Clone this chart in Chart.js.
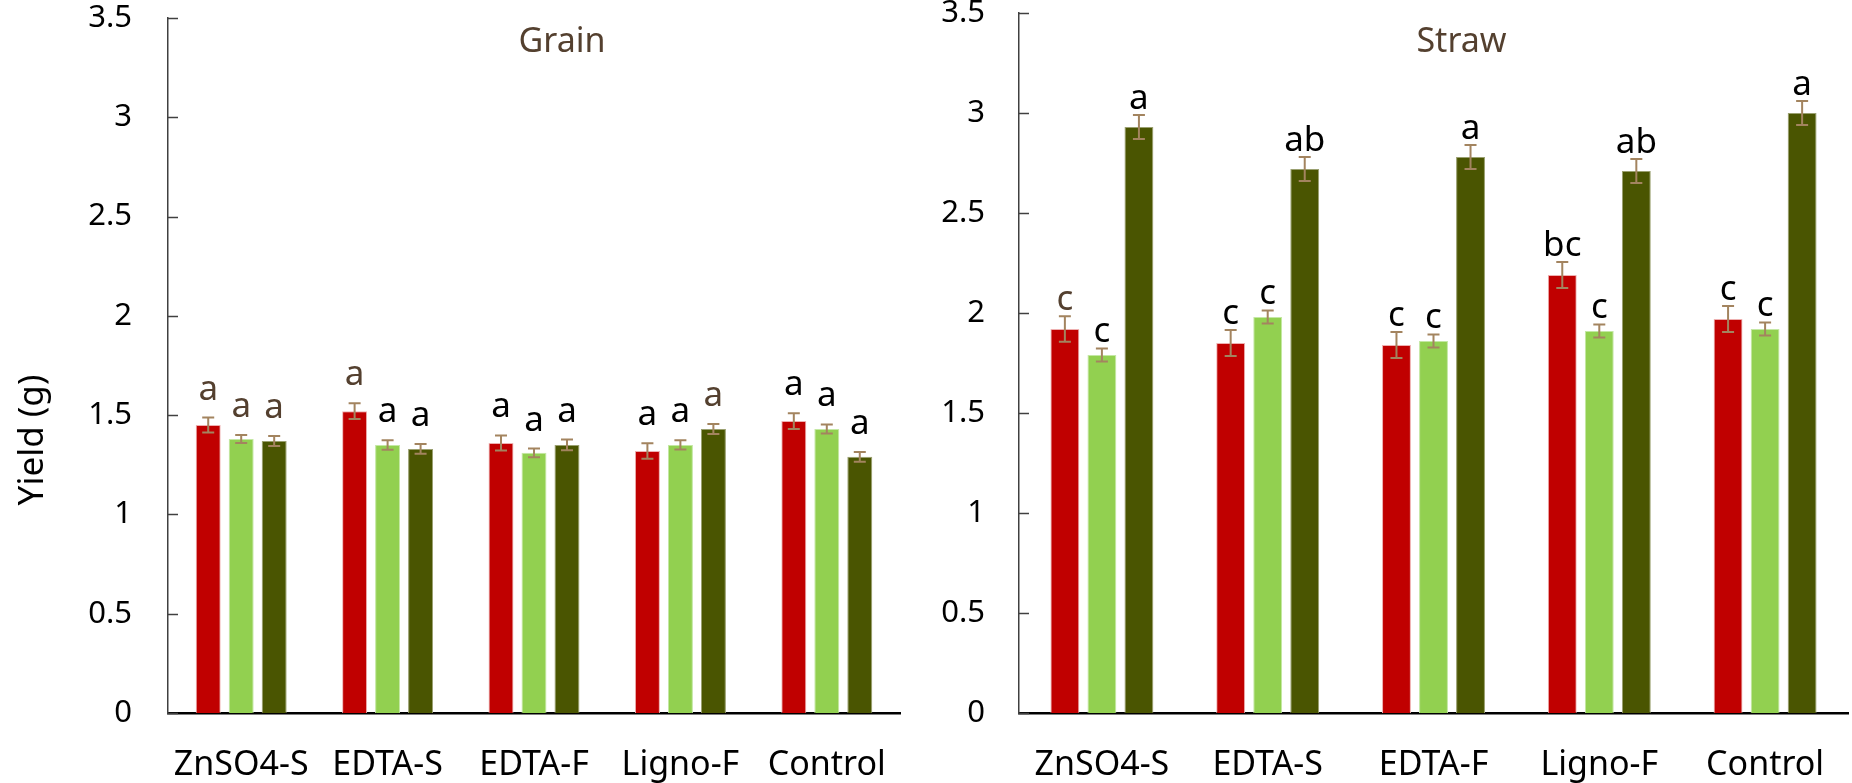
<!DOCTYPE html>
<html lang="en">
<head>
  <meta charset="UTF-8">
  <title>Yield - Grain and Straw</title>
  <script src="https://cdn.jsdelivr.net/npm/chart.js"></script>
  <style>
    body { margin: 0; background: #fff; overflow: hidden; }
    .panel { position: absolute; top: 0; height: 783px; }
    #grainBox { left: 0; width: 930px; }
    #strawBox { left: 930px; width: 922px; }
  </style>
</head>
<body>
  <div class="panel" id="grainBox"><canvas id="grainChart" width="930" height="783"></canvas></div>
  <div class="panel" id="strawBox"><canvas id="strawChart" width="922" height="783"></canvas></div>

  <script>
    // data
    const categories = ['ZnSO4-S', 'EDTA-S', 'EDTA-F', 'Ligno-F', 'Control'];
    const yTickLabels = ['0', '0.5', '1', '1.5', '2', '2.5', '3', '3.5'];

    const grainRed   = [1.45, 1.52, 1.36, 1.32, 1.47];
    const grainLight = [1.38, 1.35, 1.31, 1.35, 1.43];
    const grainDark  = [1.37, 1.33, 1.35, 1.43, 1.29];
    const grainRedErr   = [0.038, 0.040, 0.038, 0.039, 0.040];
    const grainLightErr = [0.020, 0.024, 0.022, 0.023, 0.023];
    const grainDarkErr  = [0.025, 0.025, 0.027, 0.025, 0.025];
    const grainLetters = [
      ['a', 'a', 'a', 'a', 'a'],
      ['a', 'a', 'a', 'a', 'a'],
      ['a', 'a', 'a', 'a', 'a']
    ];

    const strawRed   = [1.92, 1.85, 1.84, 2.19, 1.97];
    const strawLight = [1.79, 1.98, 1.86, 1.91, 1.92];
    const strawDark  = [2.93, 2.72, 2.78, 2.71, 3.00];
    const strawRedErr   = [0.064, 0.065, 0.065, 0.065, 0.065];
    const strawLightErr = [0.033, 0.033, 0.033, 0.033, 0.033];
    const strawDarkErr  = [0.060, 0.060, 0.060, 0.060, 0.060];
    const strawLetters = [
      ['c', 'c', 'c', 'bc', 'c'],
      ['c', 'c', 'c', 'c', 'c'],
      ['a', 'ab', 'a', 'ab', 'a']
    ];

    // letters printed in brown instead of black: [dataset, index]
    const grainBrown = [[0, 0], [1, 0], [2, 0], [0, 1], [2, 3]];
    const strawBrown = [[0, 0]];

    const FONT = "'Noto Sans', sans-serif";
    const BROWN = '#54402f';
    const colors = ['#c00000', '#92d050', '#4a5501'];
    const borders = ['#eeb0b0', '#c4e8a4', '#9aa070'];

    // error bars, significance letters, inner y ticks and panel title
    const extras = {
      id: 'extras',
      afterDatasetsDraw(chart, args, opts) {
        const ctx = chart.ctx;
        const y = chart.scales.y;
        const area = chart.chartArea;
        ctx.save();

        // y ticks pointing into the plot
        ctx.strokeStyle = '#404040';
        ctx.lineWidth = 1.5;
        y.ticks.forEach(t => {
          const py = Math.round(y.getPixelForValue(t.value)) + 0.5;
          ctx.beginPath();
          ctx.moveTo(area.left, py);
          ctx.lineTo(area.left + 10, py);
          ctx.stroke();
        });

        chart.data.datasets.forEach((ds, di) => {
          const meta = chart.getDatasetMeta(di);
          meta.data.forEach((bar, i) => {
            const v = ds.data[i], e = opts.errors[di][i];
            const top = y.getPixelForValue(v + e);
            const bot = y.getPixelForValue(v - e);
            ctx.strokeStyle = '#a3845f';
            ctx.lineWidth = 2;
            ctx.beginPath();
            ctx.moveTo(bar.x, top); ctx.lineTo(bar.x, bot);
            ctx.moveTo(bar.x - 6, top); ctx.lineTo(bar.x + 6, top);
            ctx.moveTo(bar.x - 6, bot); ctx.lineTo(bar.x + 6, bot);
            ctx.stroke();

            const brown = opts.brown.some(p => p[0] === di && p[1] === i);
            ctx.fillStyle = brown ? BROWN : '#000';
            ctx.font = '35px ' + FONT;
            ctx.textAlign = 'center';
            ctx.textBaseline = 'alphabetic';
            ctx.fillText(opts.letters[di][i], bar.x, top - opts.gap);
          });
        });

        ctx.fillStyle = BROWN;
        ctx.font = '34px ' + FONT;
        ctx.textAlign = 'center';
        ctx.fillText(opts.title, (area.left + area.right) / 2 + 28, 52);

        if (opts.yTitle) {
          ctx.fillStyle = '#000';
          ctx.font = '35px ' + FONT;
          ctx.translate(33, 440);
          ctx.rotate(-Math.PI / 2);
          ctx.textBaseline = 'middle';
          ctx.fillText(opts.yTitle, 0, 0);
        }
        ctx.restore();
      }
    };

    function makeChart(id, series, cfg) {
      const names = ['Treatment 1', 'Treatment 2', 'Treatment 3'];
      return new Chart(document.getElementById(id), {
        type: 'bar',
        data: {
          labels: categories,
          datasets: series.map((s, k) => ({
            label: names[k],
            data: s,
            backgroundColor: colors[k],
            borderColor: borders[k],
            borderWidth: 1,
            categoryPercentage: cfg.catPct,
            barPercentage: cfg.barPct
          }))
        },
        options: {
          responsive: false,
          animation: false,
          devicePixelRatio: 1,
          layout: { padding: { left: 0, right: cfg.padRight, top: cfg.padTop, bottom: 0 } },
          plugins: {
            legend: { display: false },
            tooltip: { enabled: false },
            extras: cfg.extras
          },
          scales: {
            x: {
              grid: { display: false, drawTicks: false },
              border: { display: true, color: '#000', width: 2.5 },
              ticks: { color: '#000', font: { family: FONT, size: 34 }, padding: 32, maxRotation: 0, autoSkip: false },
              afterFit: s => { s.height = 70; s.paddingLeft = 0; s.paddingRight = 0; }
            },
            y: {
              min: 0, max: 3.5,
              grid: { display: false, drawTicks: false },
              border: { display: true, color: '#404040', width: 1.5 },
              ticks: {
                stepSize: 0.5,
                color: '#000',
                font: { family: FONT, size: 31 },
                padding: cfg.tickPad,
                callback: (v, i) => yTickLabels[i]
              },
              afterFit: s => { s.width = cfg.yWidth; s.paddingTop = 0; s.paddingBottom = 0; }
            }
          }
        },
        plugins: [extras]
      });
    }

    makeChart('grainChart', [grainRed, grainLight, grainDark], {
      catPct: 0.676, barPct: 0.757,
      padRight: 30, padTop: 18, yWidth: 168, tickPad: 36,
      extras: {
        errors: [grainRedErr, grainLightErr, grainDarkErr],
        letters: grainLetters, brown: grainBrown, gap: 18,
        title: 'Grain', yTitle: 'Yield (g)'
      }
    });

    makeChart('strawChart', [strawRed, strawLight, strawDark], {
      catPct: 0.67, barPct: 0.78,
      padRight: 4, padTop: 13, yWidth: 89, tickPad: 34,
      extras: {
        errors: [strawRedErr, strawLightErr, strawDarkErr],
        letters: strawLetters, brown: strawBrown, gap: 6,
        title: 'Straw', yTitle: null
      }
    });
  </script>
</body>
</html>
